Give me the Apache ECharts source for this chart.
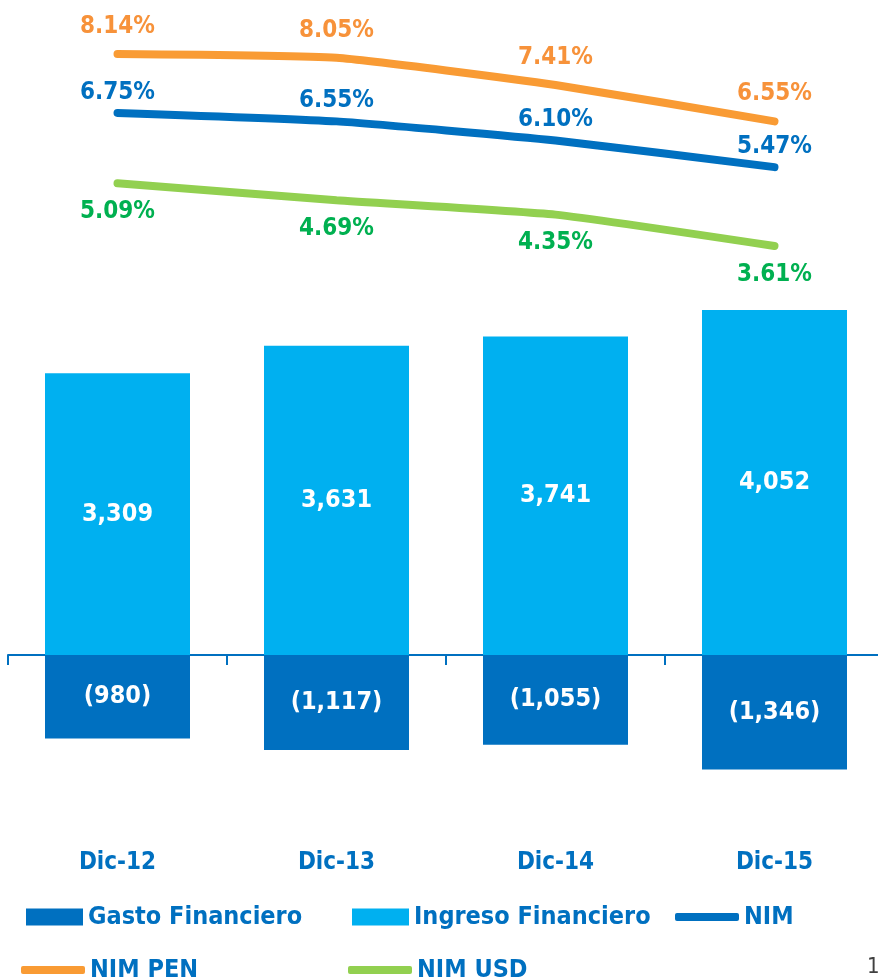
<!DOCTYPE html>
<html><head><meta charset="utf-8">
<script src="https://cdn.jsdelivr.net/npm/echarts@6/dist/echarts.min.js"></script>
<style>html,body{margin:0;padding:0;background:#fff}#c{width:878px;height:980px}</style>
</head><body><div id="c"></div>
<script>
var categories = ['Dic-12','Dic-13','Dic-14','Dic-15'];
var gasto = [-980, -1117, -1055, -1346];
var ingreso = [3309, 3631, 3741, 4052];
var nim = [6.75, 6.55, 6.10, 5.47];
var nimPen = [8.14, 8.05, 7.41, 6.55];
var nimUsd = [5.09, 4.69, 4.35, 3.61];

var FONT = "'Liberation Sans Narrow','DejaVu Sans Condensed','Noto Sans',sans-serif";
var BLUE = '#0070C0', LBLUE = '#00B0F0', ORANGE_L = '#F99B34', ORANGE_T = '#F7923A', GREEN_L = '#92D050', GREEN_T = '#00B050';

function fmt(n){ return Math.abs(n).toLocaleString('en-US'); }
function legendItem(name, left, top, rect){
  return {
    data:[name], left:left, top:top, orient:'horizontal', padding:0,
    icon: rect ? 'rect' : 'roundRect',
    itemWidth: rect ? 57 : 64, itemHeight: rect ? 17 : 8, itemGap: 0,
    textStyle:{color:BLUE, fontFamily:FONT, fontWeight:'bold', fontSize:25, lineHeight:30},
    selectedMode:false
  };
}
function lineLabel(pos, dist, color){
  return {show:true, position:pos, distance:dist, color:color, fontFamily:FONT, fontWeight:'bold', fontSize:24,
    formatter:function(p){return p.value.toFixed(2)+'%';}};
}

var chart = echarts.init(document.getElementById('c'));
chart.setOption({
  animation:false,
  grid:{left:8, width:876, top:0, height:850, containLabel:false, outerBoundsMode:'none'},
  xAxis:[
    {
      type:'category', data:categories,
      axisLine:{show:true, onZero:true, onZeroAxisIndex:0, lineStyle:{color:BLUE, width:2}},
      axisTick:{show:true, length:10, interval:0, lineStyle:{color:BLUE, width:2}},
      axisLabel:{show:false},
      splitLine:{show:false}
    },
    {
      type:'category', data:categories, position:'bottom',
      axisLine:{show:false, onZero:false}, axisTick:{show:false},
      axisLabel:{margin:1, color:BLUE, fontFamily:FONT, fontWeight:'bold', fontSize:24},
      splitLine:{show:false}
    }
  ],
  yAxis:[
    {type:'value', min:-2290.4, max:7693, show:false, splitLine:{show:false}},
    {type:'value', min:-10.643, max:9.414, show:false, splitLine:{show:false}}
  ],
  legend:[
    legendItem('Gasto Financiero', 26, 902, true),
    legendItem('Ingreso Financiero', 352, 902, true),
    legendItem('NIM', 675, 902, false),
    legendItem('NIM PEN', 21, 955, false),
    legendItem('NIM USD', 348, 955, false)
  ],
  graphic:[{type:'text', left:867, top:956, style:{text:'1', fill:'#404040', font:'22px '+FONT}}],
  series:[
    {name:'Gasto Financiero', type:'bar', stack:'a', data:gasto, barWidth:145, yAxisIndex:0, xAxisIndex:0,
     itemStyle:{color:BLUE},
     label:{show:true, position:'inside', color:'#fff', fontFamily:FONT, fontWeight:'bold', fontSize:25,
       formatter:function(p){return '('+fmt(p.value)+')';}}},
    {name:'Ingreso Financiero', type:'bar', stack:'a', data:ingreso, barWidth:145, yAxisIndex:0, xAxisIndex:0,
     itemStyle:{color:LBLUE},
     label:{show:true, position:'inside', color:'#fff', fontFamily:FONT, fontWeight:'bold', fontSize:25,
       formatter:function(p){return fmt(p.value);}}},
    {name:'NIM', type:'line', data:nim, yAxisIndex:1, xAxisIndex:0, smooth:0.15, symbol:'circle', symbolSize:1, showSymbol:true,
     lineStyle:{color:BLUE, width:8, cap:'round'}, itemStyle:{color:BLUE},
     label:lineLabel('top', 8, BLUE)},
    {name:'NIM PEN', type:'line', data:nimPen, yAxisIndex:1, xAxisIndex:0, smooth:0.15, symbol:'circle', symbolSize:1, showSymbol:true,
     lineStyle:{color:ORANGE_L, width:8, cap:'round'}, itemStyle:{color:ORANGE_L},
     label:lineLabel('top', 15, ORANGE_T)},
    {name:'NIM USD', type:'line', data:nimUsd, yAxisIndex:1, xAxisIndex:0, smooth:0.15, symbol:'circle', symbolSize:1, showSymbol:true,
     lineStyle:{color:GREEN_L, width:8, cap:'round'}, itemStyle:{color:GREEN_L},
     label:lineLabel('bottom', 16, GREEN_T)}
  ]
});
</script></body></html>
